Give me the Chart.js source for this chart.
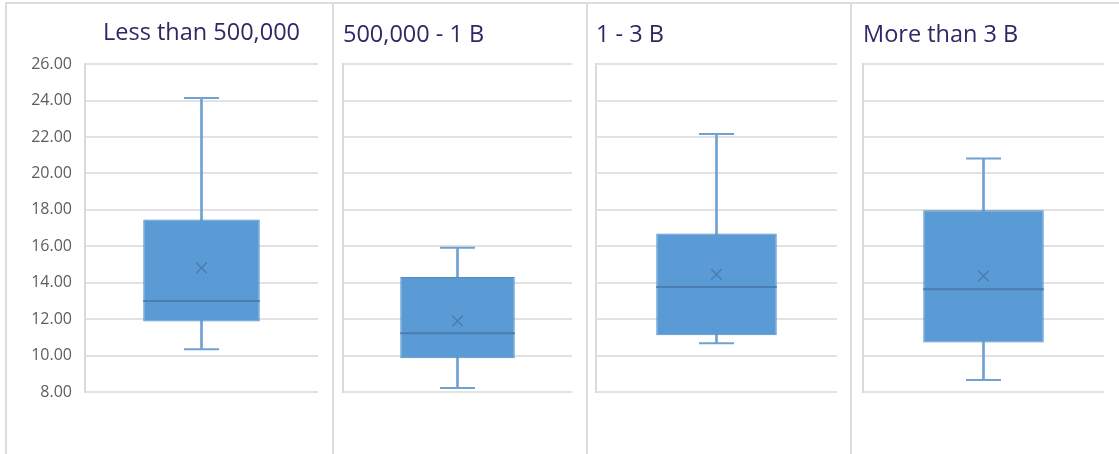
<!DOCTYPE html>
<html>
<head>
<meta charset="utf-8">
<title>Box plots by group</title>
<script src="https://cdn.jsdelivr.net/npm/chart.js@4.4.1/dist/chart.umd.min.js"></script>
<style>
  html, body { margin: 0; padding: 0; background: #fff; }
  #wrap { position: relative; width: 1119px; height: 454px; overflow: hidden; background: #fff; }
  #wrap canvas { position: absolute; top: 4px; }
  .rule { position: absolute; background: #dcdcdc; }
</style>
</head>
<body>
<div id="wrap">
  <div class="rule" style="left:5px;top:2px;width:1114px;height:2px"></div>
  <div class="rule" style="left:5px;top:2px;width:2px;height:452px"></div>
  <div class="rule" style="left:332px;top:2px;width:2px;height:452px"></div>
  <div class="rule" style="left:586px;top:2px;width:2px;height:452px"></div>
  <div class="rule" style="left:850px;top:2px;width:2px;height:452px"></div>
  <canvas id="c0" width="325" height="450" style="left:7px"></canvas>
  <canvas id="c1" width="252" height="450" style="left:334px"></canvas>
  <canvas id="c2" width="262" height="450" style="left:588px"></canvas>
  <canvas id="c3" width="267" height="450" style="left:852px"></canvas>
</div>
<script>
// Five-number summaries plus mean for each size group
const groups = ['Less than 500,000', '500,000 - 1 B', '1 - 3 B', 'More than 3 B']
const minVals = [10.35, 8.22, 10.68, 8.66]
const q1Vals = [11.87, 9.85, 11.12, 10.72]
const medianVals = [13.00, 11.23, 13.76, 13.64]
const q3Vals = [17.47, 14.31, 16.70, 17.98]
const maxVals = [24.14, 15.92, 22.17, 20.82]
const meanVals = [14.82, 11.90, 14.46, 14.37]

// shared value axis
const yMin = 8
const yMax = 26
const yStep = 2

// per-panel layout: left padding, right padding, title padding
const panels = [
  { padLeft: 0, padRight: 14, axisWidth: 78, showTicks: true, align: 'center', titleTop: 15, titleBottom: 17 },
  { padLeft: 9, padRight: 14, axisWidth: 0, showTicks: false, align: 'start', titleTop: 17, titleBottom: 15 },
  { padLeft: 8, padRight: 13, axisWidth: 0, showTicks: false, align: 'start', titleTop: 17, titleBottom: 15 },
  { padLeft: 11, padRight: 15, axisWidth: 0, showTicks: false, align: 'start', titleTop: 17, titleBottom: 15 }
]

const boxFill = '#5b9bd5'
const boxEdge = '#4f8cc6'
const whiskerColor = '#6fa1d3'
const medianColor = '#4a7db0'
const gridColor = '#e2e2e2'

// half of the box width, in pixels, for the median line
function halfBox(ctx) {
  const area = ctx.chart.chartArea
  return area ? area.width * 0.25 : 0
}

function buildPanel(i) {
  const p = panels[i]
  const label = [groups[i]]
  return new Chart(document.getElementById('c' + i), {
    data: {
      labels: label,
      datasets: [
        {
          type: 'line',
          label: 'mean',
          data: [meanVals[i]],
          showLine: false,
          pointStyle: 'crossRot',
          pointRadius: 7.5,
          pointBorderColor: medianColor,
          pointBorderWidth: 1.5,
          order: 0
        },
        {
          type: 'line',
          label: 'median',
          data: [medianVals[i]],
          showLine: false,
          pointStyle: 'line',
          pointRadius: halfBox,
          pointBorderColor: medianColor,
          pointBorderWidth: 2,
          order: 0
        },
        {
          type: 'line',
          label: 'capHigh',
          data: [maxVals[i]],
          showLine: false,
          pointStyle: 'line',
          pointRadius: 17.5,
          pointBorderColor: whiskerColor,
          pointBorderWidth: 2,
          order: 0
        },
        {
          type: 'line',
          label: 'capLow',
          data: [minVals[i]],
          showLine: false,
          pointStyle: 'line',
          pointRadius: 17.5,
          pointBorderColor: whiskerColor,
          pointBorderWidth: 2,
          order: 0
        },
        {
          type: 'bar',
          label: 'box',
          data: [[q1Vals[i], q3Vals[i]]],
          backgroundColor: boxFill,
          borderColor: boxEdge,
          borderWidth: 1,
          borderSkipped: false,
          grouped: false,
          barPercentage: 0.5,
          categoryPercentage: 1,
          order: 1
        },
        {
          type: 'bar',
          label: 'whisker',
          data: [[minVals[i], maxVals[i]]],
          backgroundColor: whiskerColor,
          borderWidth: 0,
          grouped: false,
          barThickness: 2,
          order: 2
        }
      ]
    },
    options: {
      responsive: false,
      animation: false,
      layout: {
        autoPadding: false,
        padding: { left: p.padLeft, right: p.padRight, top: 0, bottom: 62 }
      },
      plugins: {
        legend: { display: false },
        tooltip: { enabled: false },
        title: {
          display: true,
          text: groups[i],
          align: p.align,
          fullSize: false,
          color: '#2c2966',
          font: { family: 'Open Sans', size: 23.5, weight: 'normal', lineHeight: 1.2 },
          padding: { top: p.titleTop, bottom: p.titleBottom }
        }
      },
      scales: {
        x: { display: false },
        y: {
          min: yMin,
          max: yMax,
          afterFit: s => { s.width = p.axisWidth },
          ticks: {
            display: p.showTicks,
            stepSize: yStep,
            padding: 13,
            color: '#5e5e5e',
            font: { family: 'Open Sans', size: 16 },
            callback: v => v.toFixed(2)
          },
          grid: { color: gridColor, lineWidth: 2, drawTicks: false },
          border: { display: true, color: '#dadada', width: 2 }
        }
      }
    }
  })
}

groups.forEach((g, i) => buildPanel(i))
</script>
</body>
</html>
